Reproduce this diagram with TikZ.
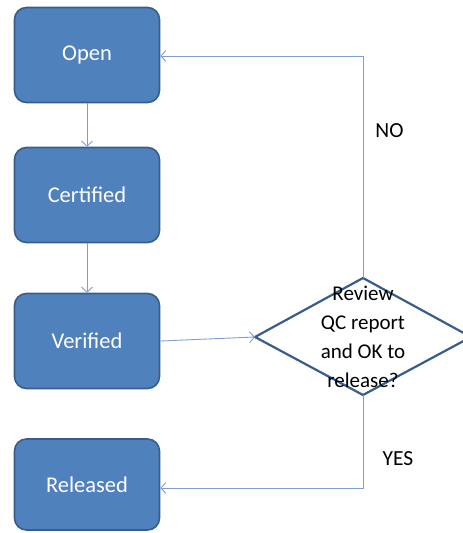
\documentclass[tikz,border=0pt]{standalone}
\usepackage{fontspec}
\setmainfont{Carlito}
\usetikzlibrary{arrows.meta,shapes.geometric}
\definecolor{boxfill}{HTML}{4F81BD}
\definecolor{boxline}{HTML}{385D8A}
\definecolor{conn}{HTML}{7FA0CC}
\begin{document}
\begin{tikzpicture}[x=1pt,y=-1pt,
  statebox/.style={draw=boxline,line width=1.6pt,fill=boxfill,rounded corners=12pt,
    minimum width=145pt,minimum height=95pt,text=white,font=\fontsize{22.5}{24}\selectfont,inner sep=0pt},
  conn/.style={draw=conn,line width=0.9pt,-{Straight Barb[length=5pt,width=11pt]}},
  lab/.style={font=\fontsize{21.5}{24}\selectfont,text=black}]
\useasboundingbox (0,0) rectangle (463,533);
\node[statebox] (open) at (87,55) {Open};
\node[statebox] (cert) at (87,195) {Certified};
\node[statebox] (ver) at (87,341) {Verified};
\node[statebox,minimum height=91pt] (rel) at (87,484.5) {Released};
\draw[draw=boxline,line width=2.2pt,fill=white] (255,337) coordinate (dl) -- (363,278) coordinate (dt) -- (471,337) coordinate (dr) -- (363,395) coordinate (db) -- cycle;
\node[lab,align=center,font=\fontsize{21}{29}\selectfont] (q) at (363,337) {Review\\QC report\\and OK to\\release?};
\draw[conn] (open) -- (cert);
\draw[conn] (cert) -- (ver);
\draw[conn] (ver.east) -- (dl);
\draw[conn] (dt) -- (363,56) -- (open.east |- 0,56);
\draw[conn] (db) -- (363,488) -- (rel.east |- 0,488);
\node[lab] (no) at (389.5,131) {NO};
\node[lab] (yes) at (398,459) {YES};
\end{tikzpicture}
\end{document}
